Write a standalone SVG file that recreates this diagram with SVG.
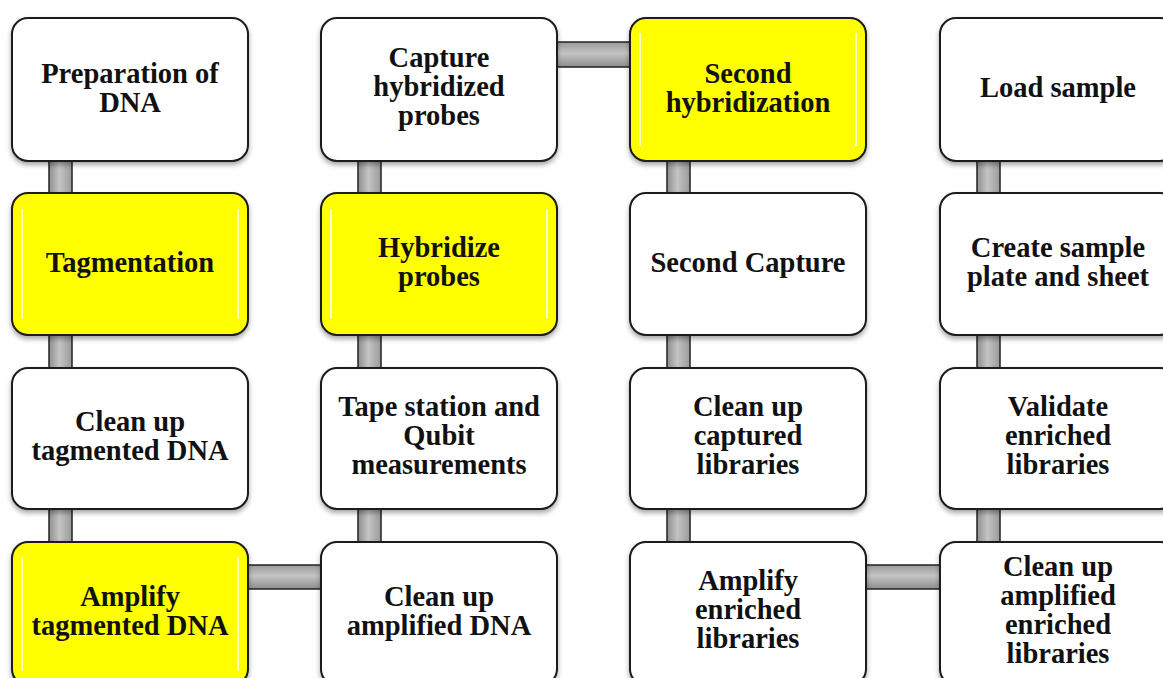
<svg xmlns="http://www.w3.org/2000/svg" width="1163" height="678" viewBox="0 0 1163 678">
<defs>
<linearGradient id="gv" x1="0" y1="0" x2="1" y2="0">
<stop offset="0" stop-color="#8e8e8e"/><stop offset="0.45" stop-color="#c4c4c4"/><stop offset="1" stop-color="#9a9a9a"/>
</linearGradient>
<linearGradient id="gh" x1="0" y1="0" x2="0" y2="1">
<stop offset="0" stop-color="#9a9a9a"/><stop offset="0.45" stop-color="#c4c4c4"/><stop offset="1" stop-color="#8e8e8e"/>
</linearGradient>
<filter id="sh" x="-10%" y="-10%" width="120%" height="130%">
<feDropShadow dx="0" dy="3" stdDeviation="2.5" flood-color="#000" flood-opacity="0.35"/>
</filter>
</defs>
<style>
.box{fill:#fff;stroke:#1a1a1a;stroke-width:2;filter:url(#sh)}
.y{fill:#ffff00}
.hl{stroke:#ffffff;stroke-width:2;stroke-opacity:0.8;fill:none;stroke-linecap:round}
.cv{fill:url(#gv);stroke:#222;stroke-width:1.5}
.ch{fill:url(#gh);stroke:#222;stroke-width:1.5}
text{font-family:"Liberation Serif","Times New Roman",serif;font-weight:bold;font-size:28.5px;fill:#111;text-anchor:middle}
</style>
<rect width="1163" height="678" fill="#fff"/>
<g id="connectors">
<rect class="cv" x="49" y="158" width="23" height="38"/>
<rect class="cv" x="49" y="333" width="23" height="38"/>
<rect class="cv" x="49" y="507" width="23" height="38"/>
<rect class="ch" x="246" y="565" width="77" height="24"/>
<rect class="cv" x="358" y="507" width="23" height="38"/>
<rect class="cv" x="358" y="333" width="23" height="38"/>
<rect class="cv" x="358" y="158" width="23" height="38"/>
<rect class="ch" x="555" y="42" width="77" height="25"/>
<rect class="cv" x="667" y="158" width="23" height="38"/>
<rect class="cv" x="667" y="333" width="23" height="38"/>
<rect class="cv" x="667" y="507" width="23" height="38"/>
<rect class="ch" x="864" y="565" width="78" height="24"/>
<rect class="cv" x="977" y="507" width="23" height="38"/>
<rect class="cv" x="977" y="333" width="23" height="38"/>
<rect class="cv" x="977" y="158" width="23" height="38"/>
</g>
<g id="n1"><rect class="box" x="12" y="18" width="236" height="143" rx="16"/>
<text x="130" y="83"><tspan x="130">Preparation of</tspan><tspan x="130" dy="29">DNA</tspan></text></g>
<g id="n2"><rect class="box y" x="12" y="193" width="236" height="142" rx="16"/>
<path class="hl" d="M22 210V318M238 210V318"/>
<text x="130" y="272">Tagmentation</text></g>
<g id="n3"><rect class="box" x="12" y="368" width="236" height="141" rx="16"/>
<text x="130" y="431"><tspan x="130">Clean up</tspan><tspan x="130" dy="29">tagmented DNA</tspan></text></g>
<g id="n4"><rect class="box y" x="12" y="542" width="236" height="143" rx="16"/>
<path class="hl" d="M22 558V670M238 558V670"/>
<text x="130" y="606"><tspan x="130">Amplify</tspan><tspan x="130" dy="29">tagmented DNA</tspan></text></g>
<g id="n5"><rect class="box" x="321" y="542" width="236" height="143" rx="16"/>
<text x="439" y="606"><tspan x="439">Clean up</tspan><tspan x="439" dy="29">amplified DNA</tspan></text></g>
<g id="n6"><rect class="box" x="321" y="368" width="236" height="141" rx="16"/>
<text x="439" y="416"><tspan x="439">Tape station and</tspan><tspan x="439" dy="29">Qubit</tspan><tspan x="439" dy="29">measurements</tspan></text></g>
<g id="n7"><rect class="box y" x="321" y="193" width="236" height="142" rx="16"/>
<path class="hl" d="M331 210V318M547 210V318"/>
<text x="439" y="257"><tspan x="439">Hybridize</tspan><tspan x="439" dy="29">probes</tspan></text></g>
<g id="n8"><rect class="box" x="321" y="18" width="236" height="143" rx="16"/>
<text x="439" y="67"><tspan x="439">Capture</tspan><tspan x="439" dy="29">hybridized</tspan><tspan x="439" dy="29">probes</tspan></text></g>
<g id="n9"><rect class="box y" x="630" y="18" width="236" height="143" rx="16"/>
<path class="hl" d="M640 34V145M856 34V145"/>
<text x="748" y="83"><tspan x="748">Second</tspan><tspan x="748" dy="29">hybridization</tspan></text></g>
<g id="n10"><rect class="box" x="630" y="193" width="236" height="142" rx="16"/>
<text x="748" y="272">Second Capture</text></g>
<g id="n11"><rect class="box" x="630" y="368" width="236" height="141" rx="16"/>
<text x="748" y="416"><tspan x="748">Clean up</tspan><tspan x="748" dy="29">captured</tspan><tspan x="748" dy="29">libraries</tspan></text></g>
<g id="n12"><rect class="box" x="630" y="542" width="236" height="143" rx="16"/>
<text x="748" y="590"><tspan x="748">Amplify</tspan><tspan x="748" dy="29">enriched</tspan><tspan x="748" dy="29">libraries</tspan></text></g>
<g id="n13"><rect class="box" x="940" y="542" width="236" height="143" rx="16"/>
<text x="1058" y="576"><tspan x="1058">Clean up</tspan><tspan x="1058" dy="29">amplified</tspan><tspan x="1058" dy="29">enriched</tspan><tspan x="1058" dy="29">libraries</tspan></text></g>
<g id="n14"><rect class="box" x="940" y="368" width="236" height="141" rx="16"/>
<text x="1058" y="416"><tspan x="1058">Validate</tspan><tspan x="1058" dy="29">enriched</tspan><tspan x="1058" dy="29">libraries</tspan></text></g>
<g id="n15"><rect class="box" x="940" y="193" width="236" height="142" rx="16"/>
<text x="1058" y="257"><tspan x="1058">Create sample</tspan><tspan x="1058" dy="29">plate and sheet</tspan></text></g>
<g id="n16"><rect class="box" x="940" y="18" width="236" height="143" rx="16"/>
<text x="1058" y="97">Load sample</text></g>
</svg>
